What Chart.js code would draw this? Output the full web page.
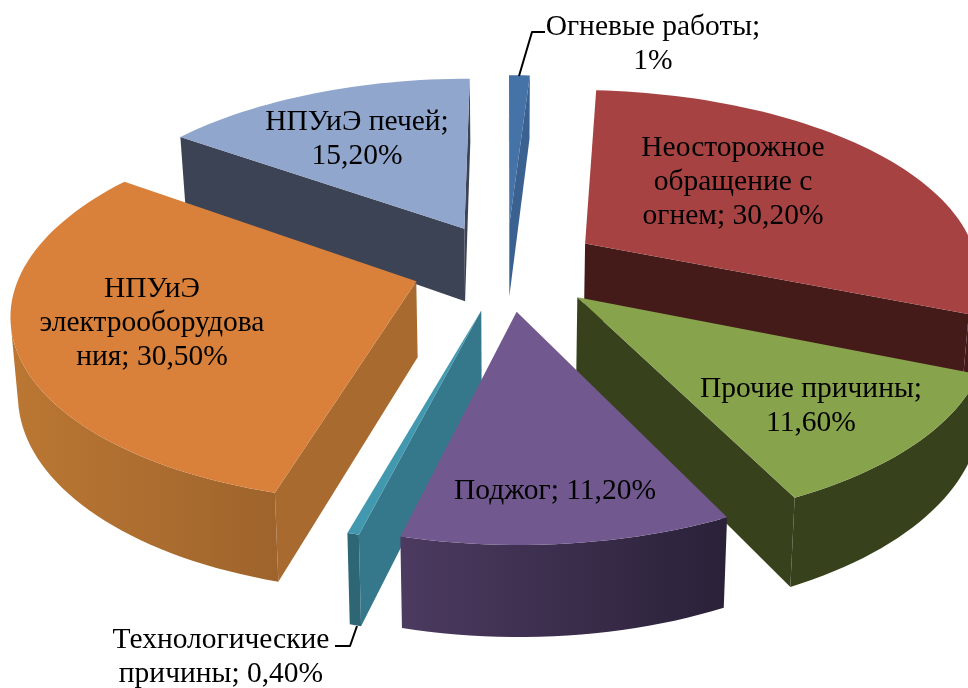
<!DOCTYPE html>
<html>
<head>
<meta charset="utf-8">
<title>Причины пожаров</title>
<script src="https://cdn.jsdelivr.net/npm/chart.js@4"></script>
<style>
  html, body { margin: 0; padding: 0; background: #fff; }
  canvas { display: block; }
</style>
</head>
<body>
<canvas id="pie" width="968" height="688"></canvas>
<script>
// values, clockwise from the top
const categories = ['Огневые работы', 'Неосторожное обращение с огнем', 'Прочие причины', 'Поджог', 'Технологические причины', 'НПУиЭ электрооборудования', 'НПУиЭ печей'];
const shares = [1, 30.2, 11.6, 11.2, 0.4, 30.5, 15.2];
const labelLines = [
  ['Огневые работы;', '1%'],
  ['Неосторожное', 'обращение с', 'огнем; 30,20%'],
  ['Прочие причины;', '11,60%'],
  ['Поджог; 11,20%'],
  ['Технологические', 'причины; 0,40%'],
  ['НПУиЭ', 'электрооборудова', 'ния; 30,50%'],
  ['НПУиЭ печей;', '15,20%'],
];

// styles
const topColors = ['#4572A7', '#A64342', '#87A34C', '#71588F', '#4198AF', '#D9803B', '#90A6CD'];
const radialColors = ['#3A618F', '#451B1A', '#37421D', '#2C2339', '#35788B', '#A96A30', '#3C4355'];
const rimLeft = ['#3A618F', '#451B1A', '#37421D', '#4C3A60', '#2E6675', '#BB7733', '#3C4355'];
const rimRight = ['#3A618F', '#451B1A', '#37421D', '#2A2138', '#2E6675', '#8F5A28', '#3C4355'];

// label centres [x, middle of first line]
const labelPos = [[653, 27], [733, 148], [811, 389], [555, 491], [221, 640], [152, 289], [357, 122]];
const lineHeight = 34;
const leaders = { 0: [[519, 76], [532, 32], [545, 32]], 4: [[357, 626], [350, 646], [335, 646]] };

// 3d view
const view = { cx: 506.5, cy: 266.5, rx: 394, ry: 183, tilt: 0.15, depth: 75, taper: 0.985, explode: 0.24 };

function project(u, v, bottom) {
  let w = 1 - view.tilt * v;
  let x = view.rx * u / w;
  let y = view.cy + view.ry * v / w;
  if (bottom) {
    x = x * view.taper;
    y = y + view.depth / w;
  }
  return { x: view.cx + x, y: y };
}

function tracePoly(ctx, pts) {
  ctx.beginPath();
  pts.forEach(function (p, i) {
    if (i == 0) ctx.moveTo(p.x, p.y);
    else ctx.lineTo(p.x, p.y);
  });
  ctx.closePath();
}

function quadArea(q) {
  let sum = 0;
  for (let i = 0; i < 4; i++) {
    let a = q[i], b = q[(i + 1) % 4];
    sum += a.x * b.y - b.x * a.y;
  }
  return sum;
}

function drawSlice(ctx, arc, i) {
  let start = arc.startAngle, end = arc.endAngle;
  let mid = (start + end) / 2;
  let ox = view.explode * Math.cos(mid);
  let oy = view.explode * Math.sin(mid);

  // outline in the pie plane: tip, then along the rim
  let plane = [[ox, oy]];
  let steps = Math.max(2, Math.ceil((end - start) / 0.03));
  for (let s = 0; s <= steps; s++) {
    let a = start + (end - start) * s / steps;
    plane.push([ox + Math.cos(a), oy + Math.sin(a)]);
  }
  let tops = plane.map(function (p) { return project(p[0], p[1], false); });
  let bots = plane.map(function (p) { return project(p[0], p[1], true); });
  let n = tops.length;

  function faces(e) {
    let f = (e + 1) % n;
    return quadArea([tops[e], tops[f], bots[f], bots[e]]) < 0;
  }

  // the two straight walls
  [0, n - 1].forEach(function (e) {
    if (!faces(e)) return;
    let f = (e + 1) % n;
    tracePoly(ctx, [tops[e], tops[f], bots[f], bots[e]]);
    ctx.fillStyle = radialColors[i];
    ctx.fill();
  });

  // curved wall, one path per run of visible edges so no seams show
  let minX = Math.min.apply(null, tops.map(function (p) { return p.x; }));
  let maxX = Math.max.apply(null, tops.map(function (p) { return p.x; }));
  let rimFill = ctx.createLinearGradient(minX, 0, maxX, 0);
  rimFill.addColorStop(0, rimLeft[i]);
  rimFill.addColorStop(1, rimRight[i]);
  let e = 1;
  while (e < n - 1) {
    if (!faces(e)) { e++; continue; }
    let from = e;
    while (e < n - 1 && faces(e)) e++;
    let upper = tops.slice(from, e + 1);
    let lower = bots.slice(from, e + 1).reverse();
    tracePoly(ctx, upper.concat(lower));
    ctx.fillStyle = rimFill;
    ctx.fill();
  }

  tracePoly(ctx, tops);
  ctx.fillStyle = arc.options.backgroundColor;
  ctx.fill();
}

const pie3d = {
  id: 'pie3d',
  beforeDatasetsDraw(chart) {
    let ctx = chart.ctx;
    let arcs = chart.getDatasetMeta(0).data;

    // back to front
    let order = arcs.map(function (arc, i) { return i; });
    order.sort(function (a, b) {
      return Math.sin((arcs[a].startAngle + arcs[a].endAngle) / 2) - Math.sin((arcs[b].startAngle + arcs[b].endAngle) / 2);
    });
    ctx.save();
    order.forEach(function (i) {
      drawSlice(ctx, arcs[i], i);
    });

    // leader lines
    ctx.strokeStyle = '#000';
    ctx.lineWidth = 2;
    ctx.lineJoin = 'round';
    Object.keys(leaders).forEach(function (k) {
      ctx.beginPath();
      leaders[k].forEach(function (p, j) {
        if (j == 0) ctx.moveTo(p[0], p[1]);
        else ctx.lineTo(p[0], p[1]);
      });
      ctx.stroke();
    });

    // labels
    ctx.fillStyle = '#000';
    ctx.font = '29.5px "Liberation Serif"';
    ctx.textAlign = 'center';
    ctx.textBaseline = 'middle';
    labelLines.forEach(function (lines, i) {
      lines.forEach(function (line, j) {
        ctx.fillText(line, labelPos[i][0], labelPos[i][1] + j * lineHeight);
      });
    });
    ctx.restore();
    return false;
  },
};

new Chart(document.getElementById('pie'), {
  type: 'pie',
  data: {
    labels: categories,
    datasets: [{ data: shares, backgroundColor: topColors, borderWidth: 0 }],
  },
  options: {
    responsive: false,
    animation: false,
    events: [],
    plugins: { legend: { display: false }, tooltip: { enabled: false } },
  },
  plugins: [pie3d],
});
</script>
</body>
</html>
